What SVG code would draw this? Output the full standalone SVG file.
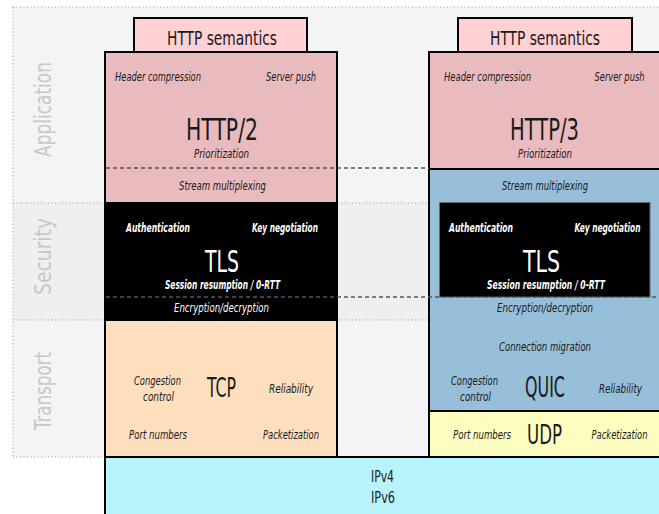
<svg xmlns="http://www.w3.org/2000/svg" width="659" height="514" viewBox="0 0 659 514">
<style>
text{font-family:"Liberation Sans Narrow","DejaVu Sans Condensed","Liberation Sans",sans-serif;font-stretch:condensed;text-anchor:middle;fill:#1a1a1a}
.it{font-style:italic;font-size:12.5px}
.w{fill:#fff}
.b{font-weight:bold}
.big{font-size:31px}
.sec{font-size:23px;fill:#c8c8c8}
.box{stroke:#000;stroke-width:2}
.dot{fill:none;stroke:#9a9a9a;stroke-width:1;stroke-dasharray:1 2.5}
.dash{fill:none;stroke:#555;stroke-width:1.3;stroke-dasharray:4 3}
</style>
<rect width="659" height="514" fill="#fff"/>
<g id="layers">
<rect x="13" y="7" width="646" height="450" fill="#f4f4f4"/>
<rect x="13" y="203" width="646" height="117" fill="#efefef"/>
<path class="dot" d="M13,7H659M13,7V457M13,457H105M13,203H105M13,320H105M338,203H428M338,320H428"/>
<text class="sec" transform="translate(51,109.5) rotate(-90)" textLength="95" lengthAdjust="spacingAndGlyphs">Application</text>
<text class="sec" transform="translate(51,256.5) rotate(-90)" textLength="77" lengthAdjust="spacingAndGlyphs">Security</text>
<text class="sec" transform="translate(51,391) rotate(-90)" textLength="78" lengthAdjust="spacingAndGlyphs">Transport</text>
</g>
<g id="http2-semantics">
<rect class="box" x="134" y="18" width="173" height="34" fill="#ffd1d5"/>
<text x="222" y="45" style="font-size:19px" textLength="110" lengthAdjust="spacingAndGlyphs">HTTP semantics</text>
</g>
<g id="http2">
<rect class="box" x="105" y="52" width="232" height="151" fill="#e9babe"/>
<text class="it" x="158" y="81" textLength="86" lengthAdjust="spacingAndGlyphs">Header compression</text>
<text class="it" x="291" y="81" textLength="50" lengthAdjust="spacingAndGlyphs">Server push</text>
<text class="big" x="222" y="140" textLength="72" lengthAdjust="spacingAndGlyphs">HTTP/2</text>
<text class="it" x="221.5" y="158" textLength="55" lengthAdjust="spacingAndGlyphs">Prioritization</text>
<text class="it" x="222.5" y="190" textLength="87" lengthAdjust="spacingAndGlyphs">Stream multiplexing</text>
</g>
<g id="tls-left">
<rect class="box" x="105" y="203" width="232" height="117" fill="#000"/>
<text class="it w b" x="158" y="232" textLength="64" lengthAdjust="spacingAndGlyphs">Authentication</text>
<text class="it w b" x="285" y="232" textLength="66" lengthAdjust="spacingAndGlyphs">Key negotiation</text>
<text class="w" x="222" y="272" style="font-size:30px" textLength="34" lengthAdjust="spacingAndGlyphs">TLS</text>
<text class="it w b" x="222.5" y="289" textLength="115" lengthAdjust="spacingAndGlyphs">Session resumption / 0-RTT</text>
<text class="it w" x="221.5" y="312" textLength="95" lengthAdjust="spacingAndGlyphs">Encryption/decryption</text>
</g>
<g id="tcp">
<rect class="box" x="105" y="320" width="232" height="137" fill="#fddfbd"/>
<text class="it" x="157.5" y="385" textLength="47" lengthAdjust="spacingAndGlyphs">Congestion</text>
<text class="it" x="158.5" y="401" textLength="31" lengthAdjust="spacingAndGlyphs">control</text>
<text x="221.5" y="397" style="font-size:27px" textLength="29" lengthAdjust="spacingAndGlyphs">TCP</text>
<text class="it" x="291" y="393" textLength="44" lengthAdjust="spacingAndGlyphs">Reliability</text>
<text class="it" x="158" y="439" textLength="58" lengthAdjust="spacingAndGlyphs">Port numbers</text>
<text class="it" x="291" y="439" textLength="56" lengthAdjust="spacingAndGlyphs">Packetization</text>
</g>
<g id="http3-semantics">
<rect class="box" x="458" y="18" width="174" height="34" fill="#ffd1d5"/>
<text x="545" y="45" style="font-size:19px" textLength="110" lengthAdjust="spacingAndGlyphs">HTTP semantics</text>
</g>
<g id="http3">
<rect class="box" x="429" y="52" width="231" height="117" fill="#e9babe"/>
<text class="it" x="487.5" y="81" textLength="87" lengthAdjust="spacingAndGlyphs">Header compression</text>
<text class="it" x="619.5" y="81" textLength="50" lengthAdjust="spacingAndGlyphs">Server push</text>
<text class="big" x="544.5" y="140" textLength="69" lengthAdjust="spacingAndGlyphs">HTTP/3</text>
<text class="it" x="545" y="158" textLength="54" lengthAdjust="spacingAndGlyphs">Prioritization</text>
</g>
<g id="quic">
<rect class="box" x="429" y="169" width="231" height="242" fill="#98bfd9"/>
<text class="it" x="545" y="190" textLength="86" lengthAdjust="spacingAndGlyphs">Stream multiplexing</text>
<text class="it" x="545" y="312" textLength="96" lengthAdjust="spacingAndGlyphs">Encryption/decryption</text>
<text class="it" x="545" y="351" textLength="92" lengthAdjust="spacingAndGlyphs">Connection migration</text>
<text class="it" x="474.5" y="385" textLength="47" lengthAdjust="spacingAndGlyphs">Congestion</text>
<text class="it" x="475.5" y="401" textLength="31" lengthAdjust="spacingAndGlyphs">control</text>
<text x="545" y="397" style="font-size:28px" textLength="40" lengthAdjust="spacingAndGlyphs">QUIC</text>
<text class="it" x="620.5" y="393" textLength="43" lengthAdjust="spacingAndGlyphs">Reliability</text>
</g>
<g id="connectors">
<path class="dash" d="M106,168H429M106,297H659"/>
</g>
<g id="tls-right">
<rect x="439.5" y="202.5" width="210.5" height="94.5" fill="#000" stroke="#666" stroke-width="1"/>
<text class="it w b" x="481" y="232" textLength="64" lengthAdjust="spacingAndGlyphs">Authentication</text>
<text class="it w b" x="607.5" y="232" textLength="66" lengthAdjust="spacingAndGlyphs">Key negotiation</text>
<text class="w" x="541.5" y="272" style="font-size:30px" textLength="37" lengthAdjust="spacingAndGlyphs">TLS</text>
<text class="it w b" x="546" y="289" textLength="118" lengthAdjust="spacingAndGlyphs">Session resumption / 0-RTT</text>
</g>
<g id="udp">
<rect class="box" x="429" y="411" width="231" height="46" fill="#fdfdc0"/>
<text class="it" x="482" y="439" textLength="58" lengthAdjust="spacingAndGlyphs">Port numbers</text>
<text x="544.5" y="444" style="font-size:26px" textLength="35" lengthAdjust="spacingAndGlyphs">UDP</text>
<text class="it" x="619.5" y="439" textLength="56" lengthAdjust="spacingAndGlyphs">Packetization</text>
</g>
<g id="ip">
<rect class="box" x="105" y="457" width="555" height="60" fill="#b9f4fe"/>
<text x="382.5" y="482" style="font-size:16px" textLength="23" lengthAdjust="spacingAndGlyphs">IPv4</text>
<text x="383" y="503" style="font-size:16px" textLength="24" lengthAdjust="spacingAndGlyphs">IPv6</text>
</g>
</svg>
